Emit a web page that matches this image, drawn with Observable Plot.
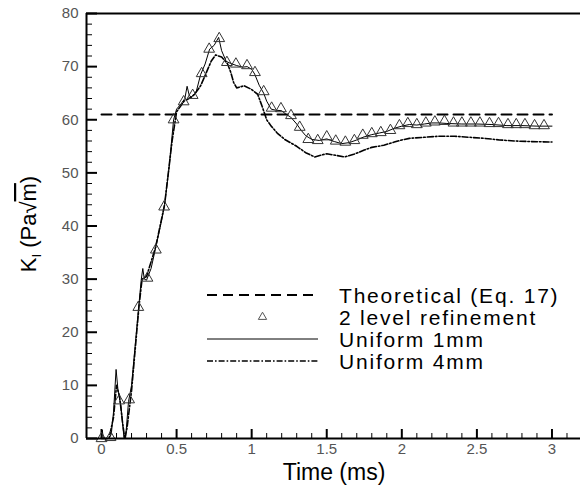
<!DOCTYPE html>
<html><head><meta charset="utf-8">
<script src="https://cdn.jsdelivr.net/npm/d3@7"></script>
<script src="https://cdn.jsdelivr.net/npm/@observablehq/plot@0.6"></script>
<style>
body{margin:0;background:#fff}
#chart{position:relative;width:580px;height:487px;font-family:"Liberation Sans",Arial,sans-serif}
</style>
</head><body><div id="chart"></div>
<script>
// ---- data ----
const refineT = [0,0.06,0.117,0.184,0.245,0.306,0.362,0.417,0.48,0.547,0.607,0.667,0.717,0.784,0.835,0.895,0.969,1.022,1.08,1.133,1.195,1.262,1.32,1.377,1.44,1.5,1.56,1.624,1.684,1.74,1.8,1.86,1.924,1.984,2.04,2.1,2.16,2.22,2.284,2.344,2.4,2.46,2.52,2.584,2.644,2.707,2.762,2.82,2.884,2.947];
const refineK = [0,0.2,7.1,7.3,24.7,30.2,35.5,43.6,60,63.4,64.6,68.7,73.3,75.3,70.8,70.5,70.2,68.9,65.3,62.2,62.1,60.8,58.6,56.3,56.1,56.8,56.0,55.8,56.1,57.1,57.4,57.6,58.0,58.9,59.3,59.1,59.4,59.6,59.7,59.4,59.4,59.4,59.4,59.3,59.3,59.1,59.1,59.1,58.9,58.9];

const uni1T = [0,0.005,0.012,0.05,0.065,0.08,0.097,0.11,0.13,0.15,0.16,0.18,0.2,0.245,0.265,0.275,0.285,0.3,0.33,0.36,0.4,0.42,0.45,0.48,0.5,0.53,0.555,0.57,0.585,0.6,0.63,0.66,0.69,0.72,0.75,0.78,0.8,0.83,0.86,0.9,0.94,0.97,1.0,1.02,1.05,1.08,1.1,1.13,1.16,1.2,1.23,1.26,1.3,1.33,1.36,1.4,1.45,1.5,1.55,1.6,1.65,1.7,1.75,1.8,1.85,1.9,1.95,2.0,2.05,2.1,2.15,2.2,2.25,2.3,2.4,2.5,2.6,2.7,2.8,2.9,3.0];
const uni1K = [0,1.6,0,0,0.8,5,13,9,6,0,0,7,10,24,30,32,30,29.8,32,35.8,41,44,51,60,62,63,64,66.3,64.5,64.3,65.2,68.5,70.5,73.3,74,75.5,73,71,70.6,70.2,69.9,70,69.5,68.6,66.5,65,63.5,62,61.8,61.7,61,60.5,59.2,58,57,56.3,56.1,56.4,55.9,55.5,55.7,56.2,56.8,57.2,57.5,57.8,58.4,58.8,59.1,59.0,59.2,59.4,59.4,59.3,59.2,59.2,59.1,58.9,58.9,58.8,58.8];

const uni4T = [0,0.05,0.08,0.1,0.12,0.14,0.155,0.17,0.2,0.25,0.27,0.3,0.36,0.42,0.47,0.5,0.55,0.6,0.62,0.66,0.7,0.73,0.76,0.8,0.84,0.86,0.88,0.9,0.95,1.0,1.04,1.07,1.1,1.13,1.17,1.22,1.3,1.36,1.42,1.47,1.5,1.56,1.62,1.68,1.75,1.8,1.88,1.95,2.0,2.05,2.15,2.25,2.35,2.45,2.55,2.65,2.75,2.85,3.0];
const uni4K = [0,0,4,10,8,3,0,2,9,25,30,30.5,36,44,56,61.5,63.5,64.3,64.8,66.4,69,71,72.2,71.8,70.5,69,67,66,66.4,65.7,64.8,62.5,60,58.8,57.5,56.3,55,53.8,53,53.4,53.6,53.3,53,53.5,54.3,54.8,55.2,55.8,56.2,56.5,56.7,56.9,56.9,56.7,56.5,56.2,56.0,55.9,55.8];

const theoryT = [0, 3];
const theoryK = [61, 61];

const xTickLabels = [0, 0.5, 1, 1.5, 2, 2.5, 3];
const yTickLabels = [0, 10, 20, 30, 40, 50, 60, 70, 80];
const legendLabels = ["Theoretical (Eq. 17)", "2 level refinement", "Uniform 1mm", "Uniform 4mm"];
const xTitle = "Time (ms)";

// ---- build ----
const xDomain = [-0.1, 3.19];
const yDomain = [0, 80];
const W = 580, H = 487, mL = 86, mR = 0, mT = 13, mB = 49;
const plotW = W - mL - mR, plotH = H - mT - mB;

const toRows = (T, K) => T.map((t, i) => ({t, k: K[i]}));
const refine = toRows(refineT, refineK);
const uni1 = toRows(uni1T, uni1K);
const uni4 = toRows(uni4T, uni4K);
const theory = toRows(theoryT, theoryK);

const xAll = d3.range(0, 32).map(i => i / 10);
const xMinor = xAll.filter(v => !xTickLabels.some(m => Math.abs(m - v) < 1e-9));
const yMinor = d3.range(0, 81, 2).filter(v => v % 10 !== 0);

const DASH = "10,6";
const DASHDOT = "6,2,1.6,2";

const chart = Plot.plot({
  width: W, height: H,
  marginLeft: mL, marginRight: mR, marginTop: mT, marginBottom: mB,
  x: {domain: xDomain},
  y: {domain: yDomain},
  style: {fontFamily: '"Liberation Sans", Arial, sans-serif', fontSize: "15px", color: "#555", background: "white"},
  marks: [
    // inward ticks
    Plot.tickX(xMinor, {x: d => d, insetTop: plotH - 5, stroke: "black", strokeWidth: 1}),
    Plot.tickX(xTickLabels, {x: d => d, insetTop: plotH - 9, stroke: "black", strokeWidth: 2}),
    Plot.tickY(yMinor, {y: d => d, insetRight: plotW - 6, stroke: "black", strokeWidth: 1}),
    Plot.tickY(yTickLabels, {y: d => d, insetRight: plotW - 11, stroke: "black", strokeWidth: 2}),
    // tick labels
    Plot.axisX(xTickLabels, {tickSize: 0, tickPadding: 5, tickFormat: d => String(d), label: null, fontSize: 15}),
    Plot.axisY(yTickLabels, {tickSize: 0, tickPadding: 8, tickFormat: d => String(d), label: null, fontSize: 15}),
    // data
    Plot.line(theory, {x: "t", y: "k", stroke: "black", strokeWidth: 2, strokeDasharray: DASH}),
    Plot.line(uni4, {x: "t", y: "k", stroke: "black", strokeWidth: 1.6, strokeDasharray: DASHDOT}),
    Plot.line(uni1, {x: "t", y: "k", stroke: "black", strokeWidth: 1}),
    Plot.dot(refine, {x: "t", y: "k", symbol: "triangle", r: 4, stroke: "#333", fill: "none", strokeWidth: 1}),
    // frame lines
    Plot.ruleY([yDomain[0]], {stroke: "black", strokeWidth: 2}),
    Plot.ruleY([yDomain[1]], {stroke: "black", strokeWidth: 2}),
    Plot.ruleX([xDomain[0]], {stroke: "black", strokeWidth: 2})
  ]
});
document.getElementById("chart").appendChild(chart);

// ---- titles and legend drawn into the same SVG ----
const svg = d3.select(chart);
const FONT = '"Liberation Sans", Arial, sans-serif';

svg.append("text")
  .attr("x", 334).attr("y", 480)
  .attr("text-anchor", "middle")
  .attr("font-family", FONT).attr("font-size", 23).attr("fill", "black")
  .text(xTitle);

const yl = svg.append("text")
  .attr("transform", "translate(36,224) rotate(-90)")
  .attr("text-anchor", "middle")
  .attr("font-family", FONT).attr("font-size", 22).attr("fill", "black");
yl.append("tspan").text("K");
yl.append("tspan").attr("font-size", 13).attr("dy", 5).text("I");
yl.append("tspan").attr("dy", -5).text(" (Pa");
yl.append("tspan").text("\u221A");
yl.append("tspan").attr("text-decoration", "overline").text("m");
yl.append("tspan").text(")");

const lx0 = 207, lx1 = 318, tx = 339;
const rowsY = [295, 317, 339, 361];
const lg = svg.append("g").attr("font-family", FONT).attr("font-size", 21).attr("fill", "black").attr("text-anchor", "start");
legendLabels.forEach((lab, i) => {
  const cy = rowsY[i];
  if (i === 0) lg.append("line").attr("x1", lx0).attr("x2", lx1).attr("y1", cy).attr("y2", cy).attr("stroke", "black").attr("stroke-width", 2).attr("stroke-dasharray", DASH);
  if (i === 1) lg.append("path").attr("d", d3.symbol(d3.symbolTriangle, 30)()).attr("transform", `translate(${(lx0 + lx1) / 2},${cy})`).attr("fill", "none").attr("stroke", "#555");
  if (i === 2) lg.append("line").attr("x1", lx0).attr("x2", lx1).attr("y1", cy).attr("y2", cy).attr("stroke", "black").attr("stroke-width", 1);
  if (i === 3) lg.append("line").attr("x1", lx0).attr("x2", lx1).attr("y1", cy).attr("y2", cy).attr("stroke", "black").attr("stroke-width", 1.4).attr("stroke-dasharray", DASHDOT);
  lg.append("text").attr("x", tx).attr("y", cy + 7.5).attr("text-anchor", "start").attr("letter-spacing", 1.8).text(lab);
});
</script>
</body></html>
